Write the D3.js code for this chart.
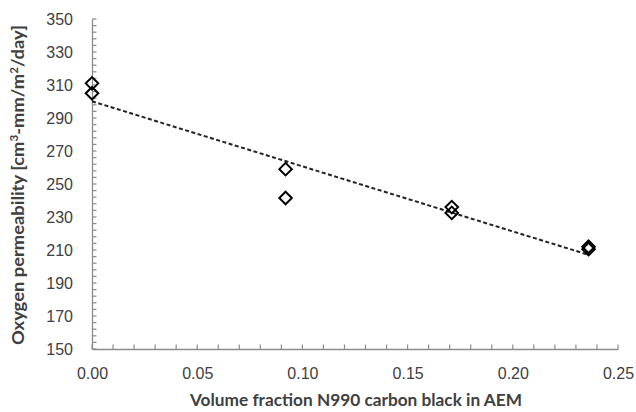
<!DOCTYPE html>
<html>
<head>
<meta charset="utf-8">
<script src="https://cdn.jsdelivr.net/npm/d3@7"></script>
<style>
  html, body { margin: 0; padding: 0; background: #fff; }
  svg { display: block; font-family: Lato, "Open Sans", sans-serif; }
</style>
</head>
<body>
<svg id="chart" width="636" height="412"></svg>
<script>
// Measured oxygen permeability vs. carbon black loading
const volumeFraction = [0, 0, 0.092, 0.092, 0.171, 0.171, 0.236, 0.236];
const permeability   = [311, 305, 259, 241.5, 236, 232.5, 212, 210.5];

const xTicks = [0, 0.05, 0.10, 0.15, 0.20, 0.25];
const yTicks = [150, 170, 190, 210, 230, 250, 270, 290, 310, 330, 350];
const xMinorStep = 0.01;
const yMinorStep = 4;

const xTitle = "Volume fraction N990 carbon black in AEM";

const svg = d3.select("#chart");

const x = d3.scaleLinear().domain([0, 0.25]).range([92, 618]);
const y = d3.scaleLinear().domain([150, 350]).range([349, 19]);

const axisColor = "#8c8c8c";
const labelColor = "#404040";

// minor ticks
const xMinor = d3.range(0, 0.25 + 1e-9, xMinorStep);
const yMinor = d3.range(150, 350 + 1e-9, yMinorStep);

const xAxis = d3.axisBottom(x).tickValues(xTicks).tickFormat(d3.format(".2f")).tickSize(0).tickPadding(19);
const gx = svg.append("g").attr("transform", `translate(0,${y(150)})`).call(xAxis);
gx.select(".domain").attr("stroke", axisColor).attr("stroke-width", 1.3);
gx.selectAll("text").attr("fill", labelColor).attr("font-size", 16);

const yAxis = d3.axisLeft(y).tickValues(yTicks).tickFormat(d3.format("d")).tickSize(0).tickPadding(19);
const gy = svg.append("g").attr("transform", `translate(${x(0)},0)`).call(yAxis);
gy.select(".domain").attr("stroke", axisColor).attr("stroke-width", 1.3);
gy.selectAll("text").attr("fill", labelColor).attr("font-size", 16);

// inward tick marks
svg.append("g").selectAll("line").data(xMinor).join("line")
  .attr("x1", d => x(d)).attr("x2", d => x(d))
  .attr("y1", y(150)).attr("y2", y(150) - 4.5)
  .attr("stroke", axisColor).attr("stroke-width", 1.2);
svg.append("g").selectAll("line").data(yMinor).join("line")
  .attr("x1", x(0)).attr("x2", x(0) + 4.5)
  .attr("y1", d => y(d)).attr("y2", d => y(d))
  .attr("stroke", axisColor).attr("stroke-width", 1.2);

// least-squares linear trend
const pts = volumeFraction.map((v, i) => [v, permeability[i]]);
const mx = d3.mean(volumeFraction), my = d3.mean(permeability);
const sxy = d3.sum(pts, p => (p[0] - mx) * (p[1] - my));
const sxx = d3.sum(pts, p => (p[0] - mx) ** 2);
const slope = sxy / sxx, intercept = my - slope * mx;
const [x0, x1] = d3.extent(volumeFraction);
svg.append("line")
  .attr("x1", x(x0)).attr("y1", y(intercept + slope * x0))
  .attr("x2", x(x1)).attr("y2", y(intercept + slope * x1))
  .attr("stroke", "#222").attr("stroke-width", 2)
  .attr("stroke-dasharray", "4,2.5");

// diamond markers
const diamond = d3.symbol().type(d3.symbolDiamond2).size(100);
svg.append("g").selectAll("path").data(pts).join("path")
  .attr("d", diamond)
  .attr("transform", p => `translate(${x(p[0])},${y(p[1])})`)
  .attr("fill", "none").attr("stroke", "#000").attr("stroke-width", 2);

// axis titles
svg.append("text")
  .attr("x", 356).attr("y", 406)
  .attr("text-anchor", "middle").attr("font-weight", "bold")
  .attr("font-size", 17.5).attr("fill", labelColor)
  .attr("textLength", 332).attr("lengthAdjust", "spacingAndGlyphs")
  .text(xTitle);

const yt = svg.append("text")
  .attr("transform", `translate(24,185) rotate(-90)`)
  .attr("text-anchor", "middle").attr("font-weight", "bold")
  .attr("font-size", 17.5).attr("fill", labelColor)
  .attr("textLength", 320).attr("lengthAdjust", "spacingAndGlyphs");
yt.append("tspan").text("Oxygen permeability [cm");
yt.append("tspan").attr("baseline-shift", "super").attr("font-size", 11).text("3");
yt.append("tspan").text("-mm/m");
yt.append("tspan").attr("baseline-shift", "super").attr("font-size", 11).text("2");
yt.append("tspan").text("/day]");
</script>
</body>
</html>
